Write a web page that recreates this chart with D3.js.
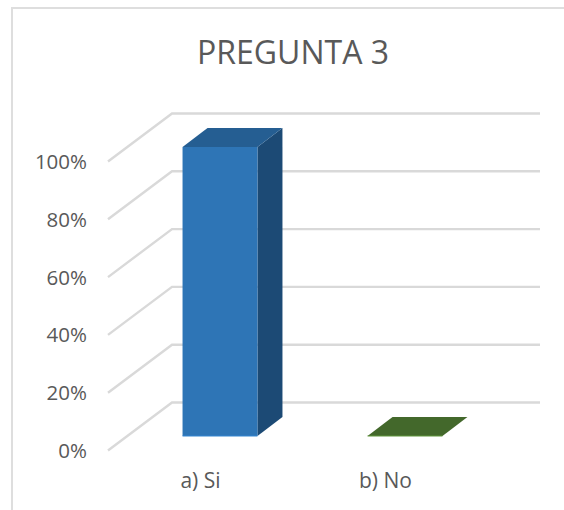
<!DOCTYPE html>
<html>
<head>
<meta charset="utf-8">
<script src="https://cdn.jsdelivr.net/npm/d3@7"></script>
<style>
html, body { margin: 0; padding: 0; background: #fff; overflow: hidden; }
text { font-family: "Open Sans", sans-serif; fill: #595959; }
</style>
</head>
<body>
<svg id="chart" width="564" height="510"></svg>
<script>
var categories = ["a) Si", "b) No"];
var values = [1, 0];
var tickValues = [0, 0.2, 0.4, 0.6, 0.8, 1];
var title = "PREGUNTA 3";

var frontColors = ["#2e75b6", "#548235"];
var topColors = ["#255e92", "#43682b"];
var sideColors = ["#1c4a75", "#32501f"];

var svg = d3.select("#chart");

// chart frame, only top and left show in the picture
svg.append("path")
	.attr("d", "M12,510V8H564")
	.attr("fill", "none")
	.attr("stroke", "#dedede")
	.attr("stroke-width", 2);

svg.append("text")
	.attr("x", 293)
	.attr("y", 64)
	.attr("text-anchor", "middle")
	.attr("font-size", "32px")
	.text(title);

// y = bar front plane, wall = back wall of the 3d box
var y = d3.scaleLinear().domain([0, 1]).range([436, 147]);
var x = d3.scaleBand().domain(categories).range([127.5, 497.5]).paddingInner(0.595).paddingOuter(0.2975);

var barDx = 25, barDy = -19;
var wallDy = -33.5;
var wallX0 = 172, wallX1 = 540;
var floorDx = -64, floorDy = 48;

var grid = svg.append("g").attr("fill", "none").attr("stroke", "#d9d9d9").attr("stroke-width", 2.4);
grid.selectAll("path")
	.data(tickValues)
	.enter().append("path")
	.attr("d", function(d) {
		var wy = y(d) + wallDy;
		return d3.line()([[wallX0 + floorDx, wy + floorDy], [wallX0, wy], [wallX1, wy]]);
	});

var yAxis = svg.append("g")
	.attr("transform", "translate(87,15)")
	.call(d3.axisLeft(y).tickValues(tickValues).tickSize(0).tickPadding(0).tickFormat(d3.format(".0%")));
yAxis.select(".domain").remove();
yAxis.selectAll("text").attr("font-size", "20.5px").style("fill", "#595959");
yAxis.attr("font-family", null);

var bars = svg.selectAll(".bar")
	.data(categories)
	.enter().append("g")
	.attr("class", "bar");

bars.each(function(c, i) {
	var g = d3.select(this);
	var x0 = x(c), x1 = x0 + x.bandwidth();
	var top = y(values[i]), base = y(0);
	var line = d3.line();
	if (values[i] > 0) {
		g.append("path")
			.attr("d", line([[x1, top], [x1 + barDx, top + barDy], [x1 + barDx, base + barDy], [x1, base]]) + "Z")
			.attr("fill", sideColors[i]);
		g.append("rect")
			.attr("x", x0).attr("y", top)
			.attr("width", x.bandwidth()).attr("height", base - top)
			.attr("fill", frontColors[i]);
	}
	g.append("path")
		.attr("d", line([[x0, top], [x0 + barDx, top + barDy], [x1 + barDx, top + barDy], [x1, top]]) + "Z")
		.attr("fill", topColors[i]);
	// thin light edge along the foot of the bar
	g.append("path")
		.attr("d", line([[x0, base], [x1, base]]))
		.attr("stroke", d3.color(frontColors[i]).brighter(0.4))
		.attr("stroke-width", 1);
});

svg.selectAll(".cat")
	.data(categories)
	.enter().append("text")
	.attr("class", "cat")
	.attr("x", function(d) { return x(d) + x.bandwidth() / 2 - 19.5; })
	.attr("y", 487.5)
	.attr("text-anchor", "middle")
	.attr("font-size", "21px")
	.text(function(d) { return d; });
</script>
</body>
</html>
